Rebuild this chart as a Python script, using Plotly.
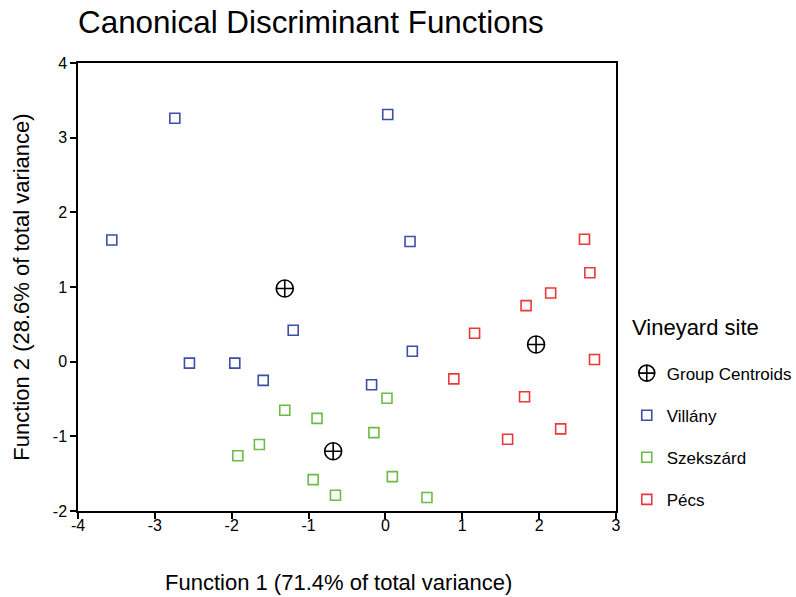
import plotly.graph_objects as go

# Data
villany_x = [-3.56, -2.74, 0.03, 0.32, -1.20, 0.35, -2.55, -1.96, -1.59, -0.18]
villany_y = [1.63, 3.26, 3.31, 1.61, 0.42, 0.14, -0.02, -0.02, -0.25, -0.31]

szekszard_x = [-1.92, -1.64, -1.31, -0.89, -0.94, -0.65, -0.15, 0.02, 0.09, 0.54]
szekszard_y = [-1.26, -1.11, -0.65, -0.76, -1.58, -1.79, -0.95, -0.49, -1.54, -1.82]

pecs_x = [2.59, 2.66, 2.15, 1.83, 1.16, 2.72, 0.89, 1.81, 2.28, 1.59]
pecs_y = [1.64, 1.19, 0.92, 0.75, 0.38, 0.03, -0.23, -0.47, -0.90, -1.04]

centroid_x = [-1.31, -0.68, 1.96]
centroid_y = [0.98, -1.20, 0.23]

x_ticks = [-4, -3, -2, -1, 0, 1, 2, 3]
x_ticklabels = ["-4", "-3", "-2", "-1", "0", "1", "2", "3"]
y_ticks = [-2, -1, 0, 1, 2, 3, 4]
y_ticklabels = ["-2", "-1", "0", "1", "2", "3", "4"]

FONT = "Liberation Sans, Arial, sans-serif"

fig = go.Figure()

fig.add_trace(go.Scatter(
    x=centroid_x, y=centroid_y, mode="markers", name="Group Centroids",
    legendgroup="c",
    marker=dict(symbol="circle-cross-open", size=17, color="black",
                line=dict(width=1.6, color="black")),
))

series = [
    ("Villány", villany_x, villany_y, "#3B4FA6"),
    ("Szekszárd", szekszard_x, szekszard_y, "#6CBB45"),
    ("Pécs", pecs_x, pecs_y, "#E8383A"),
]
for name, xs, ys, col in series:
    fig.add_trace(go.Scatter(
        x=xs, y=ys, mode="markers", name=name, legendgroup=name,
        marker=dict(symbol="square-open", size=10, color=col,
                    line=dict(width=1.6, color=col)),
    ))

fig.update_layout(
    width=796, height=597,
    paper_bgcolor="white", plot_bgcolor="white",
    margin=dict(l=78, r=180, t=63, b=86, autoexpand=False),
    font=dict(family=FONT, color="black"),
    title=dict(text="Canonical Discriminant Functions", x=78/796, xanchor="left",
               y=1 - 22/597, yanchor="middle", font=dict(size=31.4, family=FONT)),
    xaxis=dict(range=[-4, 3], tickvals=x_ticks, ticktext=x_ticklabels,
               ticks="outside", ticklen=6, automargin=False,
               ticklabelstandoff=-7,
               tickwidth=1.5, tickcolor="black",
               showline=True, linecolor="black", linewidth=1.5, mirror=True,
               showgrid=False, zeroline=False, tickfont=dict(size=16)),
    yaxis=dict(range=[-2, 4], tickvals=y_ticks, ticktext=y_ticklabels,
               ticks="outside", ticklen=6, automargin=False,
               tickwidth=1.5, tickcolor="black",
               showline=True, linecolor="black", linewidth=1.5, mirror=True,
               showgrid=False, zeroline=False, tickfont=dict(size=16),
               title=dict(text="Function 2 (28.6% of total variance)",
                          font=dict(size=22), standoff=17)),
    annotations=[
        dict(text="Function 1 (71.4% of total variance)",
             xref="paper", yref="paper",
             x=(338 - 78) / 538, y=-(582 - 511) / 448,
             xanchor="center", yanchor="middle", showarrow=False,
             font=dict(size=22)),
        dict(text="Vineyard site", xref="paper", yref="paper",
             x=(632 - 78) / 538, y=(511 - 327) / 448,
             xanchor="left", yanchor="middle", showarrow=False,
             xshift=-2, font=dict(size=22)),
    ],
    legend=dict(x=1.02, y=0.347, xanchor="left", yanchor="top",
                font=dict(size=17), tracegroupgap=17, itemsizing="trace"),
)

fig.write_html("out.html", config={"displayModeBar": False},
               post_script="document.body.style.margin='0';")
